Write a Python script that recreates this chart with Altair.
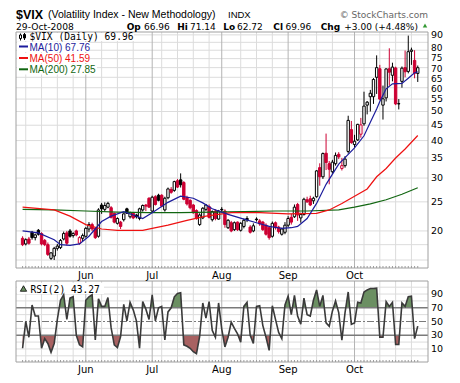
import altair as alt
import pandas as pd

# ---------------- data ----------------
opens = [
    18.9, 18.1, 18.8, 19.8, 19.0, 20.1, 19.6, 18.6, 18.0, 16.2,
    16.5, 17.5, 17.6, 18.8, 19.7, 20.0, 19.3, 20.0, 18.2, 18.9,
    19.2, 20.3, 21.0, 20.4, 19.2, 24.4, 23.6, 24.0, 23.9, 22.9,
    21.2, 21.4, 21.8, 23.7, 22.3, 22.9, 22.6, 22.0, 23.5, 24.4,
    25.7, 23.3, 26.0, 26.3, 26.3, 23.5, 25.8, 27.5, 27.3, 29.4,
    29.6, 29.0, 25.8, 25.3, 24.4, 23.4, 21.0, 22.1, 23.6, 24.1,
    21.8, 23.3, 21.9, 23.6, 23.3, 20.5, 21.3, 20.2, 21.4, 20.1,
    20.7, 22.0, 20.6, 20.0, 21.9, 21.6, 21.4, 20.9, 20.5, 19.2,
    21.3, 20.6, 19.5, 19.8, 20.9, 22.2, 22.3, 24.5, 22.1, 22.7,
    25.4, 25.6, 25.2, 26.0, 32.5, 30.3, 36.3, 33.5, 31.5, 33.5,
    36.0, 32.3, 33.0, 36.8, 43.5, 38.8, 40.2, 42.0, 45.5, 52.5,
    56.0, 56.0, 65.0, 69.4, 52.5, 55.5, 69.4, 66.0, 69.8, 53.0,
    63.0, 70.0, 68.0, 79.3, 74.0, 66.96]
highs = [
    19.2, 18.9, 19.1, 20.0, 19.6, 20.3, 19.8, 18.8, 18.3, 17.0,
    17.7, 18.1, 18.8, 19.9, 20.0, 20.3, 19.8, 20.2, 19.2, 19.6,
    20.6, 21.4, 21.3, 20.6, 23.8, 24.8, 24.9, 25.0, 24.2, 23.0,
    22.2, 21.6, 22.9, 23.9, 23.2, 23.1, 22.8, 23.9, 24.5, 24.6,
    25.9, 26.2, 26.3, 26.6, 26.5, 26.0, 27.9, 28.0, 29.4, 29.8,
    31.1, 29.3, 26.2, 25.5, 24.6, 23.6, 22.9, 24.0, 24.6, 24.5,
    23.4, 23.6, 23.5, 24.0, 23.6, 21.9, 21.6, 21.5, 21.5, 21.4,
    22.0, 22.4, 20.9, 21.2, 22.2, 21.9, 21.6, 21.2, 20.8, 21.5,
    21.5, 20.8, 20.5, 21.4, 22.4, 22.8, 24.5, 24.8, 23.0, 25.8,
    26.0, 26.2, 26.0, 31.9, 33.6, 36.5, 42.2, 34.2, 34.5, 36.5,
    36.6, 35.0, 35.5, 48.4, 46.5, 41.8, 45.5, 47.6, 58.2, 54.2,
    59.0, 64.6, 76.9, 71.5, 61.0, 69.6, 81.2, 72.7, 70.5, 55.0,
    70.6, 79.8, 89.5, 81.6, 80.0, 71.14]
lows = [
    17.8, 17.9, 18.0, 18.7, 18.6, 19.3, 17.9, 17.8, 16.5, 16.0,
    16.0, 17.2, 17.4, 18.6, 17.9, 19.0, 19.0, 19.2, 18.0, 18.5,
    19.0, 19.8, 20.0, 18.8, 19.0, 22.8, 23.2, 23.8, 22.0, 21.2,
    21.0, 20.3, 21.5, 22.8, 22.0, 21.9, 22.0, 21.7, 23.2, 23.3,
    23.9, 23.0, 24.3, 25.1, 24.0, 23.2, 25.5, 26.6, 27.0, 27.8,
    27.9, 25.3, 24.3, 23.6, 22.8, 21.8, 20.8, 21.9, 23.3, 22.0,
    21.5, 21.7, 21.8, 23.0, 20.5, 20.3, 19.8, 20.0, 20.0, 19.9,
    20.4, 21.4, 19.6, 19.8, 21.5, 20.8, 20.0, 19.3, 18.7, 19.0,
    20.2, 19.6, 19.3, 19.5, 20.6, 21.0, 22.1, 21.6, 21.3, 22.5,
    24.8, 24.2, 24.6, 25.8, 28.3, 29.8, 31.9, 28.6, 31.0, 33.0,
    34.7, 31.8, 32.5, 36.2, 39.0, 37.9, 39.9, 40.9, 44.8, 48.9,
    50.0, 53.0, 57.2, 54.5, 47.0, 54.0, 61.0, 63.0, 52.5, 50.8,
    60.0, 65.0, 67.0, 71.5, 64.5, 62.72]
closes = [
    18.0, 18.7, 18.2, 19.0, 19.4, 19.5, 18.1, 18.0, 16.7, 16.9,
    17.5, 17.8, 18.6, 19.6, 18.2, 19.2, 19.6, 19.4, 19.0, 19.3,
    20.4, 21.0, 20.3, 19.0, 23.5, 23.7, 24.3, 24.7, 22.2, 21.4,
    22.0, 20.7, 22.8, 22.9, 23.0, 22.1, 22.3, 23.7, 24.3, 24.2,
    24.0, 25.9, 24.5, 25.3, 24.2, 25.7, 27.6, 26.9, 29.2, 28.0,
    28.5, 25.5, 24.6, 23.9, 23.0, 22.0, 22.6, 23.8, 24.4, 22.2,
    23.2, 22.0, 23.3, 23.5, 21.0, 21.7, 20.0, 21.3, 20.2, 21.2,
    21.7, 21.8, 19.8, 20.8, 21.8, 21.1, 20.2, 19.5, 19.0, 21.2,
    20.5, 19.9, 20.3, 20.9, 22.0, 21.4, 24.0, 22.6, 22.7, 25.5,
    25.0, 24.4, 25.7, 31.7, 30.3, 36.2, 33.8, 32.1, 33.9, 35.7,
    35.3, 33.0, 34.7, 46.7, 39.4, 39.8, 45.3, 45.1, 52.1, 53.7,
    57.5, 63.9, 70.0, 55.0, 55.1, 69.3, 67.6, 70.3, 53.0, 53.1,
    69.7, 67.8, 79.1, 80.1, 67.0, 69.96]
rsi2 = [
    11, 50, 27, 74, 58, 58, 11, 25, 18, 5,
    18, 53, 81, 89, 53, 84, 86, 30, 16, 13,
    81, 86, 89, 23, 83, 72, 72, 85, 41, 16,
    12, 28, 75, 51, 78, 67, 51, 11, 79, 68,
    53, 89, 51, 70, 72, 23, 64, 70, 86, 91,
    92, 16, 14, 11, 6, 3, 28, 77, 55, 79,
    37, 27, 77, 39, 13, 27, 49, 40, 32, 20,
    72, 78, 30, 18, 72, 73, 44, 27, 8, 73,
    53, 34, 25, 74, 87, 60, 88, 58, 46, 84,
    60, 58, 81, 96, 72, 88, 48, 43, 65, 80,
    63, 23, 63, 93, 46, 48, 78, 77, 93, 96,
    98, 98, 98.5, 27, 27, 79, 72, 78, 16.5, 16.5,
    77, 72, 86, 87, 25, 43.27]

ma10_idx = [0, 5, 10, 12, 15, 18, 21, 25, 28, 32, 35, 38, 41, 46, 50, 54, 57, 60,
            65, 70, 74, 78, 82, 85, 87, 90, 93, 96, 100, 103, 105, 108, 110, 112,
            113, 115, 117, 120, 122, 124, 125]
ma10_val = [20.0, 19.7, 18.7, 18.0, 17.9, 18.1, 19.2, 21.5, 22.4, 23.2, 22.6, 22.0,
            23.0, 24.9, 26.1, 25.7, 24.8, 23.7, 22.7, 21.9, 21.3, 20.7, 20.4, 20.5,
            20.7, 22.0, 24.7, 28.6, 33.4, 36.0, 37.8, 41.5, 46.0, 51.0, 54.0, 59.5,
            61.8, 62.0, 64.5, 67.3, 67.76]
ma50_idx = [0, 10, 15, 20, 25, 30, 38, 41, 46, 52, 58, 66, 75, 84, 93, 97, 101,
            105, 109, 112, 115, 118, 121, 125]
ma50_val = [24.0, 23.5, 22.4, 21.0, 20.3, 20.1, 20.1, 20.4, 20.9, 21.7, 22.4, 23.0,
            23.0, 22.8, 22.9, 23.5, 24.7, 26.1, 27.6, 30.3, 32.3, 35.0, 37.5, 41.59]
ma200_idx = [0, 10, 20, 30, 40, 50, 60, 70, 80, 90, 100, 105, 110, 115, 120, 125]
ma200_val = [23.6, 23.5, 23.3, 23.1, 23.0, 23.0, 23.1, 23.2, 23.3, 23.3, 23.5, 24.0,
             24.6, 25.4, 26.5, 27.85]

price_ticks_low = [20, 25, 30, 35, 40, 45, 50, 55, 90]
price_ticks_high = [80, 75, 70, 65, 60]
price_grid = [16, 18, 20, 25, 30, 35, 40, 45, 50, 55, 60, 65, 70, 75, 80, 85, 90]
rsi_ticks = [90, 70, 50, 30, 10]
rsi_grid = [0, 10, 20, 40, 60, 80, 90, 100]
holidays = ["2008-05-26", "2008-07-04", "2008-09-01"]

# ---------------- derived tables ----------------
days = pd.bdate_range("2008-05-02", "2008-10-29")
days = days[~days.isin(pd.to_datetime(holidays))]
n = len(days)

cd = pd.DataFrame({"idx": range(n), "open": opens, "high": highs,
                   "low": lows, "close": closes})
prev = cd["close"].shift(1).fillna(cd["open"])
cd["col"] = ["black" if c >= p else "#cc0033" for c, p in zip(cd["close"], prev)]
cd["fil"] = ["white" if c > o else col for c, o, col in zip(cd["close"], cd["open"], cd["col"])]

month_idx = [i for i in range(1, n) if days[i].month != days[i - 1].month]
month_df = pd.DataFrame({"idx": month_idx, "m": [days[i].strftime("%b") for i in month_idx]})
week_idx = [i for i in range(1, n)
            if days[i].isocalendar()[1] != days[i - 1].isocalendar()[1]
            and min(abs(i - m) for m in month_idx) > 2]
week_df = pd.DataFrame({"idx": week_idx})
day_df = pd.DataFrame({"idx": range(n)})

rsi_df = pd.DataFrame({"idx": range(n), "v": rsi2})


def band(level, above):
    xs, ys = [], []
    for i, v in enumerate(rsi2):
        if i > 0:
            p = rsi2[i - 1]
            if (p - level) * (v - level) < 0:
                xs.append(i - 1 + (level - p) / (v - p))
                ys.append(level)
        xs.append(i)
        ys.append(max(v, level) if above else min(v, level))
    return pd.DataFrame({"idx": xs, "v": ys, "base": [level] * len(xs)})


hi_fill = band(70, True)
lo_fill = band(30, False)

# ---------------- layout (page px -> view px) ----------------
OFF = 8


def P(v):
    return v - OFF


L, R, PT, PB = 16, 428, 32, 268
RT, RB = 281, 362

XS = alt.Scale(domain=[-0.5, 126.66], range=[P(L), P(R)], nice=False, zero=False)
YS = alt.Scale(type="log", domain=[15.05, 92], range=[P(PB), P(PT)], nice=False)
RS = alt.Scale(domain=[-9, 109], range=[P(RB), P(RT)], nice=False, zero=False)

ONE = pd.DataFrame({"k": [0]})


def X(f="idx"):
    return alt.X(f"{f}:Q", scale=XS, axis=None)


def YP(f):
    return alt.Y(f"{f}:Q", scale=YS, axis=None)


def YR(f):
    return alt.Y(f"{f}:Q", scale=RS, axis=None)


def txt(s, x, y, size=10, font="DejaVu Sans", color="black", weight="normal", align="left"):
    return alt.Chart(ONE).mark_text(text=s, font=font, fontSize=size, color=color,
                                    fontWeight=weight, align=align,
                                    baseline="alphabetic").encode(
        x=alt.value(P(x)), y=alt.value(P(y)))


def box(x1, y1, x2, y2, fill="white", stroke=None, sw=1):
    kw = dict(fill=fill)
    if stroke:
        kw.update(stroke=stroke, strokeWidth=sw)
    return alt.Chart(ONE).mark_rect(**kw).encode(
        x=alt.value(P(x1)), x2=alt.value(P(x2)), y=alt.value(P(y1)), y2=alt.value(P(y2)))


def hline(x1, x2, y, color, sw=1):
    return alt.Chart(ONE).mark_rule(color=color, strokeWidth=sw).encode(
        x=alt.value(P(x1)), x2=alt.value(P(x2)), y=alt.value(P(y)))


def vline(x, y1, y2, color, sw=1):
    return alt.Chart(ONE).mark_rule(color=color, strokeWidth=sw).encode(
        x=alt.value(P(x)), y=alt.value(P(y1)), y2=alt.value(P(y2)))


GRID = "#dcdcdc"
MGRID = "#b4b4b4"
BORDER = "#a0a0a0"
NAVY = "#1c1c9c"
MRED = "#ee1111"
GREEN = "#116611"

layers = []

# ---- price panel grid ----
layers.append(alt.Chart(pd.DataFrame({"v": price_grid})).mark_rule(color=GRID).encode(
    y=YP("v"), x=alt.value(P(L)), x2=alt.value(P(R))))
layers.append(alt.Chart(week_df).mark_rule(color=GRID).encode(
    x=X(), y=alt.value(P(PT)), y2=alt.value(P(PB))))
layers.append(alt.Chart(month_df).mark_rule(color=MGRID).encode(
    x=X(), y=alt.value(P(PT)), y2=alt.value(P(PB))))

# ---- RSI panel grid ----
layers.append(alt.Chart(pd.DataFrame({"v": rsi_grid})).mark_rule(color=GRID).encode(
    y=YR("v"), x=alt.value(P(L)), x2=alt.value(P(R))))
layers.append(alt.Chart(week_df).mark_rule(color=GRID).encode(
    x=X(), y=alt.value(P(RT)), y2=alt.value(P(RB))))
layers.append(alt.Chart(month_df).mark_rule(color=MGRID).encode(
    x=X(), y=alt.value(P(RT)), y2=alt.value(P(RB))))

# ---- legend backgrounds ----
layers += [box(17, 33, 134, 41), box(17, 42, 89, 52), box(17, 53, 90, 63),
           box(17, 64, 97, 74.5), box(17, 283, 104, 294)]

# ---- candles ----
layers.append(alt.Chart(cd).mark_rule(strokeWidth=1).encode(
    x=X(), y=YP("low"), y2="high:Q", color=alt.Color("col:N", scale=None)))
layers.append(alt.Chart(cd).mark_bar(size=2.4, strokeWidth=1).encode(
    x=X(), y=YP("open"), y2="close:Q",
    fill=alt.Fill("fil:N", scale=None), stroke=alt.Stroke("col:N", scale=None)))

# ---- moving averages ----
for ix, vals, col in [(ma200_idx, ma200_val, GREEN), (ma50_idx, ma50_val, MRED),
                      (ma10_idx, ma10_val, NAVY)]:
    layers.append(alt.Chart(pd.DataFrame({"idx": ix, "v": vals})).mark_line(
        color=col, strokeWidth=1.2).encode(x=X(), y=YP("v")))

# ---- RSI ----
layers.append(alt.Chart(hi_fill).mark_area(color="#6b8f62", opacity=1).encode(
    x=X(), y=YR("v"), y2="base:Q"))
layers.append(alt.Chart(lo_fill).mark_area(color="#a86161", opacity=1).encode(
    x=X(), y=YR("v"), y2="base:Q"))
layers.append(alt.Chart(pd.DataFrame({"v": [70, 30]})).mark_rule(
    color="#7a7a7a", strokeWidth=1.3).encode(y=YR("v"), x=alt.value(P(L)), x2=alt.value(P(R))))
layers.append(alt.Chart(pd.DataFrame({"v": [50]})).mark_rule(
    color="#7a7a7a", strokeWidth=1.2, strokeDash=[7, 2, 2, 2]).encode(
    y=YR("v"), x=alt.value(P(L)), x2=alt.value(P(R))))
layers.append(alt.Chart(rsi_df).mark_line(color="#3a3a3a", strokeWidth=1.6).encode(
    x=X(), y=YR("v")))

# ---- daily ticks & borders ----
layers.append(alt.Chart(day_df).mark_rule(color="#9a9a9a").encode(
    x=X(), y=alt.value(P(PB - 2)), y2=alt.value(P(PB))))
layers.append(alt.Chart(day_df).mark_rule(color="#9a9a9a").encode(
    x=X(), y=alt.value(P(RB - 2)), y2=alt.value(P(RB))))
layers.append(box(L, PT, R, PB, fill="transparent", stroke=BORDER))
layers.append(box(L, RT, R, RB, fill="transparent", stroke=BORDER))

# ---- axis labels ----
def price_labels(vals, dy, size=9.5):
    return (alt.Chart(pd.DataFrame({"v": vals, "t": [str(v) for v in vals]}))
            .mark_text(align="left", baseline="middle", font="DejaVu Sans", fontSize=size, dy=dy)
            .encode(x=alt.value(P(431)), y=YP("v"), text="t:N"))


layers.append(price_labels(price_ticks_low, 0))
for v, dy in zip(price_ticks_high, [-2, -0.5, 1, 1.5, 1]):
    layers.append(price_labels([v], dy, 9))
layers.append(alt.Chart(pd.DataFrame({"v": rsi_ticks, "t": [str(v) for v in rsi_ticks]}))
              .mark_text(align="left", baseline="middle", font="DejaVu Sans", fontSize=9.5)
              .encode(x=alt.value(P(431)), y=YR("v"), text="t:N"))
for yb in (279, 373):
    layers.append(alt.Chart(month_df).mark_text(
        align="center", baseline="alphabetic", font="DejaVu Sans", fontSize=10).encode(
        x=X(), y=alt.value(P(yb)), text="m:N"))

# ---- header ----
HF = "Liberation Sans"
DF = "DejaVu Sans"
Y1, Y2 = 18.3, 29.8
layers += [
    txt("$VIX", 16, 18.5, 12.5, HF, weight="bold"),
    txt("(Volatility Index - New Methodology)", 48, Y1, 10.5, HF),
    txt("INDX", 228, Y1, 9.5, HF),
    txt("\u00a9 StockCharts.com", 428, Y1 - 0.5, 9, DF, color="#666666", align="right"),
    txt("29-Oct-2008", 16, Y2, 9.2, DF),
    txt("Op", 126.7, Y2, 9, DF, weight="bold"),
    txt("66.96", 144, Y2, 9, DF),
    txt("Hi", 177.3, Y2, 9, DF, weight="bold"),
    txt("71.14", 190, Y2, 9, DF),
    txt("Lo", 223.3, Y2, 9, DF, weight="bold"),
    txt("62.72", 237, Y2, 9, DF),
    txt("Cl", 273.3, Y2, 9, DF, weight="bold"),
    txt("69.96", 285.5, Y2, 9, DF),
    txt("Chg", 320.7, Y2, 9, DF, weight="bold"),
    txt("+3.00 (+4.48%)", 344.3, Y2, 9, DF),
]
layers.append(alt.Chart(ONE).mark_point(shape="triangle-up", filled=True, color="#339933",
                                        size=20, opacity=1).encode(
    x=alt.value(P(425)), y=alt.value(P(25.5))))

# ---- legends ----
MF = "DejaVu Sans Mono"
layers += [
    vline(20.5, 33.5, 40.5, "black"), box(19.5, 35, 21.5, 38.5, fill="white", stroke="black"),
    vline(24.5, 33, 40, "black"), box(23.5, 34.5, 25.5, 38, fill="black", stroke="black"),
    txt("$VIX (Daily) 69.96", 29.5, 40, 9.6, MF),
    hline(19, 28, 46.5, NAVY, 2), txt("MA(10) 67.76", 29.5, 50.5, 10, HF, color=NAVY),
    hline(19, 28, 58, MRED, 2), txt("MA(50) 41.59", 29.5, 61.8, 10, HF, color=MRED),
    hline(19, 28, 69.3, GREEN, 2), txt("MA(200) 27.85", 29.5, 73, 10, HF, color=GREEN),
    txt("RSI(2) 43.27", 30.5, 292.5, 9.6, MF),
]
layers.append(alt.Chart(ONE).mark_point(shape="triangle-up", filled=True, color="#6b8f62",
                                        stroke="black", strokeWidth=0.8, size=40, opacity=1).encode(
    x=alt.value(P(23.5)), y=alt.value(P(288.5))))

chart = alt.layer(*layers).resolve_scale(y="independent").properties(
    width=444, height=367, padding=0,
    autosize=alt.AutoSizeParams(type="none"),
).configure_view(strokeWidth=0)

chart.save("out.html", embed_options={"renderer": "svg", "actions": False})
